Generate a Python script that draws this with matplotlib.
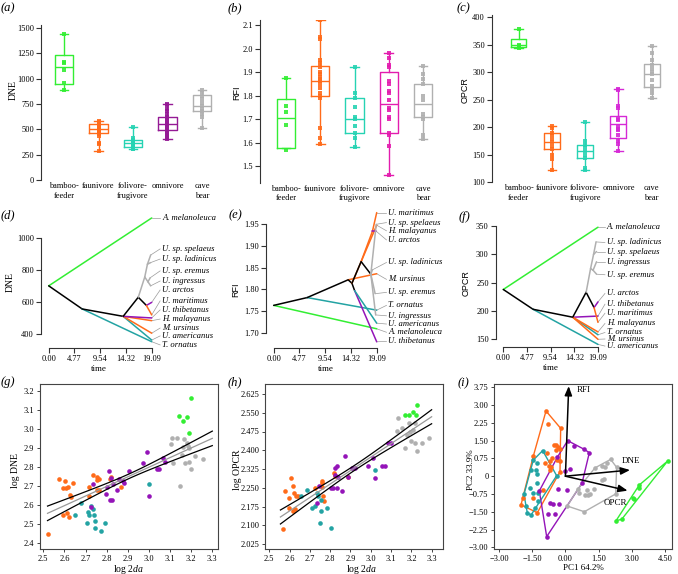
import numpy as np
import matplotlib
matplotlib.use('Agg')
import matplotlib.pyplot as plt

plt.rcParams['font.family'] = ['Liberation Serif', 'DejaVu Serif']
plt.rcParams['mathtext.fontset'] = 'custom'
plt.rcParams['mathtext.rm'] = 'Liberation Serif'
plt.rcParams['mathtext.it'] = 'Liberation Serif:italic'
SANS = ['Liberation Sans', 'DejaVu Sans']

# ---------------- colours ----------------
GREEN = '#33EE33'
ORANGE = '#FF6B1A'
TEAL_BOX = '#26D3B3'
TEAL = '#23A3A3'
PURPLE_A = '#951A95'
PURPLE_B = '#E31CAE'
PURPLE_C = '#D629D6'
PURPLE = '#9414B8'
GREY = '#B0B0B0'

# ---------------- data: box panels (a)-(c) ----------------
categories = ['bamboo-\nfeeder', 'faunivore', 'folivore-\nfrugivore', 'omnivore', 'cave\nbear']
# (whisker low, q1, median, q3, whisker high)
dne_box = [(890, 945, 1115, 1230, 1440), (290, 460, 500, 555, 580), (305, 330, 365, 390, 520),
           (400, 490, 555, 625, 750), (510, 680, 730, 840, 890)]
dne_pts = [[1440, 1160, 1150, 1090, 960, 890],
           [580, 575, 560, 550, 545, 540, 520, 505, 500, 490, 480, 470, 460, 450, 430, 365, 355, 290],
           [520, 410, 395, 385, 370, 360, 350, 340, 330, 310, 305],
           [750, 740, 700, 680, 650, 625, 610, 590, 570, 555, 540, 520, 500, 480, 460, 440, 420, 400],
           [890, 870, 830, 800, 760, 730, 700, 680, 650, 620, 510]]
rfi_box = [(1.575, 1.575, 1.705, 1.785, 1.875), (1.595, 1.80, 1.86, 1.925, 2.12), (1.58, 1.64, 1.70, 1.79, 1.92),
           (1.46, 1.64, 1.765, 1.90, 1.98), (1.615, 1.71, 1.765, 1.85, 1.925)]
rfi_pts = [[1.875, 1.755, 1.73, 1.675, 1.57],
           [2.12, 2.05, 2.04, 1.95, 1.94, 1.92, 1.90, 1.89, 1.88, 1.87, 1.86, 1.85, 1.83, 1.81, 1.80, 1.79, 1.66, 1.62, 1.595],
           [1.92, 1.81, 1.79, 1.75, 1.71, 1.70, 1.67, 1.64, 1.62, 1.58],
           [1.98, 1.96, 1.93, 1.92, 1.86, 1.85, 1.82, 1.81, 1.78, 1.745, 1.74, 1.71, 1.70, 1.64, 1.63, 1.585, 1.46],
           [1.925, 1.89, 1.87, 1.85, 1.80, 1.78, 1.72, 1.71, 1.70, 1.63, 1.615]]
opcr_box = [(344, 345, 350, 360, 378), (122, 160, 172, 190, 202), (122, 143, 157, 167, 210),
            (156, 180, 206, 220, 270), (252, 272, 296, 315, 347)]
opcr_pts = [[378, 350, 347, 344],
            [202, 198, 190, 185, 178, 172, 165, 160, 150, 142, 122],
            [210, 175, 167, 163, 157, 150, 143, 125, 122],
            [270, 268, 238, 235, 215, 212, 200, 197, 195, 185, 175, 170, 156],
            [347, 335, 322, 312, 305, 300, 296, 285, 275, 270, 262, 252]]

# ---------------- data: phenograms (d)-(f) ----------------
time_ticks = [0.0, 4.77, 9.54, 14.32, 19.09]
time_labels = ['0.00', '4.77', '9.54', '14.32', '19.09']
species = {'mel': 'A. melanoleuca', 'spe': 'U. sp. spelaeus', 'lad': 'U. sp. ladinicus',
           'ere': 'U. sp. eremus', 'ing': 'U. ingressus', 'arc': 'U. arctos', 'mar': 'U. maritimus',
           'thi': 'U. thibetanus', 'mal': 'H. malayanus', 'urs': 'M. ursinus',
           'ame': 'U. americanus', 'orn': 'T. ornatus'}
K = 'black'
dne_nodes = {'R': (0, 700), 'n1': (6.2, 556), 'n2': (13.8, 510), 'n3': (16.6, 629), 'n5': (18.1, 578),
             'g1': (17.8, 755), 'g2': (18.3, 835), 'g3': (18.4, 725),
             'mel': (19.09, 1123), 'orn': (19.09, 352), 'ame': (19.09, 362), 'urs': (19.09, 405),
             'mal': (19.09, 483), 'thi': (19.09, 500), 'arc': (19.09, 597), 'mar': (19.09, 519),
             'spe': (18.9, 892), 'lad': (18.9, 845), 'ere': (18.8, 750), 'ing': (18.9, 700)}
dne_edges = [('R', 'mel', GREEN), ('R', 'n1', K), ('n1', 'orn', TEAL), ('n1', 'n2', K),
             ('n2', 'ame', TEAL), ('n2', 'urs', ORANGE), ('n2', 'mal', ORANGE), ('n2', 'thi', PURPLE),
             ('n2', 'n3', K), ('n3', 'n5', K), ('n5', 'arc', PURPLE), ('n5', 'mar', ORANGE),
             ('n3', 'g1', GREY), ('g1', 'g2', GREY), ('g2', 'spe', GREY), ('g2', 'lad', GREY),
             ('g1', 'g3', GREY), ('g3', 'ere', GREY), ('g3', 'ing', GREY)]
dne_labels = {'mel': 1123, 'spe': 930, 'lad': 867, 'ere': 793, 'ing': 730, 'arc': 674, 'mar': 606,
              'thi': 550, 'mal': 493, 'urs': 437, 'ame': 388, 'orn': 332}

rfi_nodes = {'R': (0, 1.763), 'n1': (6.2, 1.781), 'n2': (13.8, 1.822), 'n3': (14.5, 1.814),
             'n4': (15.0, 1.797), 'n5': (16.2, 1.864), 'n6': (18.0, 1.835), 'n8': (18.3, 1.934),
             'mel': (19.09, 1.709), 'orn': (19.09, 1.752), 'urs': (19.09, 1.836), 'thi': (19.09, 1.679),
             'ame': (19.09, 1.722), 'mar': (19.09, 1.977), 'mal': (19.09, 1.948), 'arc': (19.0, 1.934),
             'spe': (19.0, 1.95), 'lad': (18.3, 1.845), 'ere': (18.8, 1.79), 'ing': (18.9, 1.741)}
rfi_edges = [('R', 'mel', GREEN), ('R', 'n1', K), ('n1', 'orn', TEAL), ('n1', 'n2', K),
             ('n2', 'urs', ORANGE), ('n2', 'n3', K), ('n3', 'n4', K), ('n4', 'thi', PURPLE),
             ('n4', 'ame', TEAL), ('n3', 'mal', ORANGE), ('n3', 'n5', K), ('n5', 'n8', ORANGE),
             ('n8', 'mar', ORANGE), ('n8', 'arc', PURPLE), ('n5', 'n6', K),
             ('n6', 'spe', GREY), ('n6', 'lad', GREY), ('n6', 'ere', GREY), ('n6', 'ing', GREY)]
rfi_labels = {'mar': 1.977, 'spe': 1.954, 'mal': 1.935, 'arc': 1.914, 'lad': 1.862, 'urs': 1.823,
              'ere': 1.793, 'orn': 1.763, 'ing': 1.739, 'ame': 1.720, 'mel': 1.701, 'thi': 1.680}

opcr_nodes = {'R': (0, 238), 'n1': (6.0, 203), 'n2': (14.0, 189), 'n4': (16.7, 233), 'n5': (18.3, 206),
              'g1': (17.6, 275), 'g2': (18.2, 300), 'g3': (18.1, 272),
              'mel': (19.09, 348), 'ame': (19.09, 141), 'orn': (19.09, 158), 'thi': (19.09, 191),
              'mal': (19.09, 163), 'urs': (19.09, 150), 'arc': (19.09, 216), 'mar': (19.09, 180),
              'lad': (18.7, 322), 'spe': (18.8, 305), 'ing': (18.8, 287), 'ere': (18.8, 265)}
opcr_edges = [('R', 'mel', GREEN), ('R', 'n1', K), ('n1', 'ame', TEAL), ('n1', 'n2', K),
              ('n2', 'orn', TEAL), ('n2', 'thi', PURPLE), ('n2', 'mal', ORANGE), ('n2', 'urs', ORANGE),
              ('n2', 'n4', K), ('n4', 'n5', K), ('n5', 'arc', PURPLE), ('n5', 'mar', ORANGE),
              ('n4', 'g1', GREY), ('g1', 'g2', GREY), ('g2', 'lad', GREY), ('g2', 'spe', GREY),
              ('g1', 'g3', GREY), ('g3', 'ing', GREY), ('g3', 'ere', GREY)]
opcr_labels = {'mel': 348, 'lad': 321, 'spe': 305, 'ing': 287, 'ere': 264, 'arc': 231, 'thi': 212,
               'mar': 196, 'mal': 178, 'orn': 162, 'urs': 150.5, 'ame': 138}

# ---------------- data: scatter (g), (h) ----------------
g_orange_x = [2.520, 2.574, 2.603, 2.591, 2.607, 2.618, 2.626, 2.631, 2.639, 2.595, 2.610, 2.621, 2.716,
              2.716, 2.737, 2.752, 2.756, 2.765, 2.752, 2.765, 2.815, 2.820, 2.866]
g_orange_y = [2.447, 2.739, 2.728, 2.688, 2.688, 2.697, 2.653, 2.641, 2.718, 2.548, 2.557, 2.540, 2.697,
              2.650, 2.758, 2.746, 2.732, 2.737, 2.679, 2.679, 2.737, 2.746, 2.697]
g_teal_x = [2.678, 2.650, 2.713, 2.716, 2.724, 2.733, 2.705, 2.741, 2.744, 2.744, 2.773, 2.792, 3.000]
g_teal_y = [2.610, 2.548, 2.566, 2.548, 2.596, 2.578, 2.505, 2.548, 2.517, 2.479, 2.466, 2.505, 2.709]
g_purple_x = [2.733, 2.726, 2.795, 2.800, 2.811, 2.815, 2.823, 2.820, 2.831, 2.850, 2.858, 2.875, 2.883,
              2.905, 2.989, 2.970, 3.000, 3.036, 3.047, 3.065, 3.076]
g_purple_y = [2.709, 2.589, 2.659, 2.697, 2.779, 2.627, 2.627, 2.741, 2.711, 2.679, 2.735, 2.727, 2.718,
              2.779, 2.880, 2.819, 2.650, 2.788, 2.788, 2.849, 2.828]
g_grey_x = [3.103, 3.110, 3.131, 3.115, 3.147, 3.167, 3.178, 3.186, 3.191, 3.170, 3.191, 3.199, 3.218,
            3.257, 3.155, 3.162]
g_grey_y = [2.919, 2.950, 2.950, 2.819, 2.700, 2.945, 2.924, 2.910, 2.898, 2.819, 2.828, 2.788, 2.858,
            2.840, 2.863, 2.907]
g_green_x = [3.142, 3.159, 3.178, 3.199, 3.189]
g_green_y = [3.069, 3.039, 3.060, 3.160, 2.980]
# regression: x-range, fitted end values, CI half-gap at ends / centre
g_reg = dict(x0=2.52, x1=3.30, y0=2.557, y1=2.950, gap_end=0.038, gap_mid=0.012)

h_orange_x = [2.566, 2.577, 2.597, 2.607, 2.615, 2.622, 2.631, 2.640, 2.618, 2.626, 2.599, 2.725, 2.758,
              2.761, 2.758, 2.763, 2.771, 2.819, 2.824, 2.886]
h_orange_y = [2.085, 2.237, 2.208, 2.288, 2.257, 2.228, 2.217, 2.217, 2.157, 2.164, 2.168, 2.248, 2.277,
              2.268, 2.252, 2.218, 2.198, 2.308, 2.297, 2.294]
h_teal_x = [2.684, 2.656, 2.712, 2.725, 2.737, 2.741, 2.755, 2.755, 2.750, 2.783, 2.804, 3.021]
h_teal_y = [2.241, 2.217, 2.168, 2.177, 2.228, 2.217, 2.201, 2.157, 2.108, 2.168, 2.088, 2.321]
h_purple_x = [2.873, 2.824, 2.832, 2.824, 2.840, 2.804, 2.815, 2.832, 2.860, 2.886, 2.906, 2.922, 2.988,
              3.009, 3.054, 3.070, 3.086, 3.098, 3.021, 2.737, 2.745]
h_purple_y = [2.378, 2.328, 2.337, 2.301, 2.294, 2.248, 2.248, 2.248, 2.237, 2.294, 2.328, 2.328, 2.338,
              2.370, 2.337, 2.337, 2.430, 2.430, 2.288, 2.188, 2.257]
h_grey_x = [3.136, 3.128, 3.152, 3.188, 3.193, 3.210, 3.218, 3.169, 3.196, 3.218, 3.226, 3.251, 3.287, 3.177]
h_grey_y = [2.530, 2.478, 2.488, 2.510, 2.474, 2.481, 2.510, 2.408, 2.437, 2.430, 2.398, 2.430, 2.450, 2.461]
h_green_x = [3.169, 3.188, 3.206, 3.221, 3.226]
h_green_y = [2.541, 2.541, 2.552, 2.541, 2.581]
h_reg = dict(x0=2.555, x1=3.30, y0=2.133, y1=2.534, gap_end=0.028, gap_mid=0.010)

# ---------------- data: PCA (i) ----------------
i_orange_x = [-0.876, -0.80, -0.214, -1.449, -0.816, -0.62, -0.515, -0.425, -0.35, -0.44, -0.244, -0.696,
              -0.364, -0.244, -0.756, -0.65, -0.696, -0.922, -0.244, -1.027, -1.479, -1.90, -2.006, -1.268]
i_orange_y = [2.75, 2.19, 2.02, 0.85, 0.99, 0.75, 1.32, 1.32, 1.25, 1.11, 1.13, 0.64, 0.68, 0.64, 0.43,
              0.37, 0.26, 0.57, 0.19, -0.58, -0.93, -0.91, -1.21, -1.54]
i_teal_x = [-1.027, -1.449, -1.268, -1.554, -1.343, -1.268, -1.60, -1.298, -1.449, -1.223, -1.87, -1.78,
            -1.373, -1.72, -1.554, -0.395, -1.223]
i_teal_y = [1.08, 0.68, 0.57, 0.26, 0.26, 0.08, -0.48, -0.27, -0.69, -0.69, -0.76, -1.26, -1.33, -1.54,
            -1.64, 0.02, -1.03]
i_purple_x = [0.102, 0.389, 0.855, 1.081, -0.364, -0.018, 0.208, -1.178, -0.32, 0.057, -0.696, -0.575,
              -0.274, -0.771, -0.455, -0.846, 0.75]
i_purple_y = [1.50, 1.29, 1.13, 0.99, 0.80, 0.23, 0.29, -0.62, -0.55, -0.58, -1.12, -1.17, -1.17, -1.59,
              -1.59, -2.55, -0.30]
i_grey_x = [2.045, 1.865, 1.789, 1.337, 1.639, 2.316, 1.744, 1.639, 1.307, 0.96, 1.11, 0.63, 0.554, 0.886,
            1.036, 0.087, 0.855, 2.27]
i_grey_y = [0.71, 0.57, 0.37, 0.35, 0.43, 0.37, -0.13, -0.16, -0.55, -0.58, -0.76, -0.69, -0.55, -0.79,
            -0.79, -1.26, -1.50, -0.75]
i_green_x = [4.62, 3.34, 3.34, 3.04, 3.11, 2.286, 2.542]
i_green_y = [0.64, -0.37, -0.48, -0.93, -0.98, -1.88, -1.82]
loadings = {'RFI': (0.15, 3.80), 'DNE': (2.92, 0.26), 'OPCR': (2.81, -0.61)}
loading_text = {'RFI': (0.5, 3.62), 'DNE': (2.54, 0.66), 'OPCR': (1.72, -1.12)}

# ---------------- figure ----------------
W, H = 678, 574
fig = plt.figure(figsize=(W / 100, H / 100), dpi=100)
fig.patch.set_facecolor('white')


def add_ax(l, t, r, b):
    return fig.add_axes([l / W, 1 - b / H, (r - l) / W, (b - t) / H])


def ftext(x, y, s, **kw):
    fig.text(x / W, 1 - y / H, s, **kw)


SPINE = '#333333'
TFS = 6


def box_panel(ax, stats, pts, colors, width, capw, yticks, ylabels):
    for i, (st, p, c) in enumerate(zip(stats, pts, colors)):
        lo, q1, med, q3, hi = st
        props = dict(color=c, lw=1.0)
        ax.bxp([dict(whislo=lo, q1=q1, med=med, q3=q3, whishi=hi, fliers=[])], positions=[i],
               widths=width, capwidths=capw, showfliers=False, manage_ticks=False,
               boxprops=props, whiskerprops=props, capprops=props, medianprops=props)
        ax.scatter(np.full(len(p), i), p, s=6, marker='s', color=c, lw=0, zorder=3, alpha=0.9)
    for sp in ['top', 'right', 'bottom']:
        ax.spines[sp].set_visible(False)
    ax.spines['left'].set_color(SPINE)
    ax.spines['left'].set_linewidth(0.8)
    ax.set_yticks(yticks)
    ax.set_yticklabels(ylabels)
    ax.set_xticks(range(len(categories)))
    ax.set_xticklabels(categories, linespacing=1.25)
    ax.tick_params(axis='y', direction='out', length=3.5, width=0.8, labelsize=TFS, pad=1.5, color=SPINE)
    ax.tick_params(axis='x', length=0, labelsize=TFS, pad=1.5)
    ax.patch.set_alpha(0)


# (a)
axa = add_ax(41, 25, 222, 180)
box_panel(axa, dne_box, dne_pts, [GREEN, ORANGE, TEAL_BOX, PURPLE_A, GREY], 0.53, 0.24,
          [0, 250, 500, 750, 1000, 1250, 1500], ['0', '250', '500', '750', '1000', '1250', '1500'])
axa.set_xlim(-0.667, 4.58)
axa.set_ylim(0, 1530)
# (b)
axb = add_ax(260, 20.3, 445, 182.5)
box_panel(axb, rfi_box, rfi_pts, [GREEN, ORANGE, TEAL_BOX, PURPLE_B, GREY], 0.53, 0.26,
          [1.5, 1.6, 1.7, 1.8, 1.9, 2.0, 2.1], ['1.5', '1.6', '1.7', '1.8', '1.9', '2.0', '2.1'])
axb.set_xlim(-0.759, 4.642)
axb.set_ylim(1.43, 2.12)
# (c)
axc = add_ax(492, 15.4, 672, 182)
box_panel(axc, opcr_box, opcr_pts, [GREEN, ORANGE, TEAL_BOX, PURPLE_C, GREY], 0.48, 0.25,
          [100, 150, 200, 250, 300, 350, 400], ['100', '150', '200', '250', '300', '350', '400'])
axc.set_xlim(-0.796, 4.61)
axc.set_ylim(100, 403)

ftext(13, 90, 'DNE', rotation=90, ha='center', va='center', fontsize=7)
ftext(237, 93, 'RFI', rotation=90, ha='center', va='center', fontsize=6.5, family=SANS)
ftext(465, 90, 'OPCR', rotation=90, ha='center', va='center', fontsize=6.5, family=SANS)


def tree_panel(ax, nodes, edges, labels, label_t, conn_t, yticks, ylabels, ybounds):
    for a, b, c in edges:
        (t0, v0), (t1, v1) = nodes[a], nodes[b]
        ax.plot([t0, t1], [v0, v1], color=c, lw=1.1, solid_capstyle='round', clip_on=False, zorder=3)
    for key, lv in labels.items():
        t, v = nodes[key]
        ax.plot([t, conn_t], [v, lv], color='#9A9A9A', lw=0.5, clip_on=False, zorder=2)
        ax.text(label_t, lv, species[key], style='italic', fontsize=6.2, va='center', ha='left',
                clip_on=False)
    for sp in ['top', 'right']:
        ax.spines[sp].set_visible(False)
    for sp in ['left', 'bottom']:
        ax.spines[sp].set_color(SPINE)
        ax.spines[sp].set_linewidth(0.8)
    ax.spines['left'].set_bounds(*ybounds)
    ax.spines['bottom'].set_bounds(0, 19.09)
    ax.set_xticks(time_ticks)
    ax.set_xticklabels(time_labels)
    ax.set_yticks(yticks)
    ax.set_yticklabels(ylabels)
    ax.tick_params(direction='out', length=3.5, width=0.8, labelsize=TFS, pad=1.5, color=SPINE)
    ax.patch.set_alpha(0)


axd = add_ax(41, 215, 155, 347.7)
tree_panel(axd, dne_nodes, dne_edges, dne_labels, 21.0, 20.65, [400, 600, 800, 1000],
           ['400', '600', '800', '1000'], (400, 1000))
axd.set_xlim(-1.43, 19.70)
axd.set_ylim(314.6, 1141.4)

axe = add_ax(265.7, 210, 380, 347.7)
tree_panel(axe, rfi_nodes, rfi_edges, rfi_labels, 21.24, 20.9, [1.70, 1.75, 1.80, 1.85, 1.90, 1.95],
           ['1.70', '1.75', '1.80', '1.85', '1.90', '1.95'], (1.70, 1.95))
axe.set_xlim(-1.48, 19.70)
axe.set_ylim(1.6654, 1.983)

axf = add_ax(495.7, 222, 602, 346.7)
tree_panel(axf, opcr_nodes, opcr_edges, opcr_labels, 20.84, 20.5, [150, 200, 250, 300, 350],
           ['150', '200', '250', '300', '350'], (150, 350))
axf.set_xlim(-1.53, 19.9)
axf.set_ylim(136.9, 357.2)

ftext(10, 282, 'DNE', rotation=90, ha='center', va='center', fontsize=7)
ftext(236, 290, 'RFI', rotation=90, ha='center', va='center', fontsize=6.5, family=SANS)
ftext(466, 283, 'OPCR', rotation=90, ha='center', va='center', fontsize=6.5, family=SANS)
ftext(99, 369, 'time', ha='center', va='center', fontsize=6.5)
ftext(326, 369, 'time', ha='center', va='center', fontsize=6.5)
ftext(551, 368, 'time', ha='center', va='center', fontsize=6.5)


def frame(ax):
    for sp in ax.spines.values():
        sp.set_color('#444444')
        sp.set_linewidth(0.8)
    ax.tick_params(direction='out', length=2.5, width=0.7, labelsize=TFS, pad=1.5, color='#444444')


def scatter_groups(ax, groups):
    for xs, ys, c in groups:
        ax.scatter(xs, ys, s=11, color=c, lw=0, zorder=2)


def reg_lines(ax, r):
    xs = np.linspace(r['x0'], r['x1'], 60)
    yc = r['y0'] + (r['y1'] - r['y0']) * (xs - r['x0']) / (r['x1'] - r['x0'])
    xm = 0.5 * (r['x0'] + r['x1'])
    half = 0.5 * (r['x1'] - r['x0'])
    w = np.sqrt(r['gap_mid'] ** 2 + (r['gap_end'] ** 2 - r['gap_mid'] ** 2) * ((xs - xm) / half) ** 2)
    ax.plot(xs, yc, color='#999999', lw=0.9, zorder=3)
    ax.plot(xs, yc + w, color='black', lw=0.9, zorder=3)
    ax.plot(xs, yc - w, color='black', lw=0.9, zorder=3)


# (g)
axg = add_ax(40, 384, 218, 549)
scatter_groups(axg, [(g_orange_x, g_orange_y, ORANGE), (g_teal_x, g_teal_y, TEAL),
                     (g_purple_x, g_purple_y, PURPLE), (g_grey_x, g_grey_y, GREY),
                     (g_green_x, g_green_y, GREEN)])
reg_lines(axg, g_reg)
axg.set_xlim(2.4844, 3.327)
axg.set_ylim(2.370, 3.235)
gx = [2.5, 2.6, 2.7, 2.8, 2.9, 3.0, 3.1, 3.2, 3.3]
gy = [2.4, 2.5, 2.6, 2.7, 2.8, 2.9, 3.0, 3.1, 3.2]
axg.set_xticks(gx)
axg.set_xticklabels([f'{v:.1f}' for v in gx])
axg.set_yticks(gy)
axg.set_yticklabels([f'{v:.1f}' for v in gy])
frame(axg)

# (h)
axh = add_ax(265, 384, 443, 549)
scatter_groups(axh, [(h_orange_x, h_orange_y, ORANGE), (h_teal_x, h_teal_y, TEAL),
                     (h_purple_x, h_purple_y, PURPLE), (h_grey_x, h_grey_y, GREY),
                     (h_green_x, h_green_y, GREEN)])
reg_lines(axh, h_reg)
axh.set_xlim(2.479, 3.356)
axh.set_ylim(2.005, 2.665)
hy = [2.025, 2.100, 2.175, 2.250, 2.325, 2.400, 2.475, 2.550, 2.625]
axh.set_xticks(gx)
axh.set_xticklabels([f'{v:.1f}' for v in gx])
axh.set_yticks(hy)
axh.set_yticklabels([f'{v:.3f}' for v in hy])
frame(axh)


def hull(xs, ys):
    pts = sorted(set(zip(xs, ys)))

    def cross(o, a, b):
        return (a[0] - o[0]) * (b[1] - o[1]) - (a[1] - o[1]) * (b[0] - o[0])
    lower, upper = [], []
    for p in pts:
        while len(lower) >= 2 and cross(lower[-2], lower[-1], p) <= 0:
            lower.pop()
        lower.append(p)
    for p in reversed(pts):
        while len(upper) >= 2 and cross(upper[-2], upper[-1], p) <= 0:
            upper.pop()
        upper.append(p)
    h = lower[:-1] + upper[:-1]
    h.append(h[0])
    return [p[0] for p in h], [p[1] for p in h]


# (i)
axi = add_ax(494, 384, 672, 549)
i_groups = [(i_orange_x, i_orange_y, ORANGE), (i_teal_x, i_teal_y, TEAL),
            (i_purple_x, i_purple_y, PURPLE), (i_grey_x, i_grey_y, GREY),
            (i_green_x, i_green_y, GREEN)]
for xs, ys, c in i_groups:
    hx, hy_ = hull(xs, ys)
    axi.plot(hx, hy_, color=c, lw=1.0, zorder=1)
scatter_groups(axi, i_groups)
for k, (lx, ly) in loadings.items():
    axi.annotate('', xy=(lx, ly), xytext=(0, 0),
                 arrowprops=dict(arrowstyle='-|>,head_length=0.55,head_width=0.22', color='black',
                                 lw=1.1, shrinkA=0, shrinkB=0), zorder=4)
    tx, ty = loading_text[k]
    axi.text(tx, ty, k, fontsize=6.5, ha='left', va='center', zorder=5)
axi.set_xlim(-3.226, 4.816)
axi.set_ylim(-3.072, 3.889)
ix = [-3.0, -1.5, 0.0, 1.5, 3.0, 4.5]
iy = [-3.0, -2.25, -1.5, -0.75, 0.0, 0.75, 1.5, 2.25, 3.0, 3.75]
axi.set_xticks(ix)
axi.set_xticklabels([f'{v:.2f}'.replace('-', '\u2212') for v in ix])
axi.set_yticks(iy)
axi.set_yticklabels(['0' if v == 0 else f'{v:.2f}'.replace('-', '\u2212') for v in iy])
frame(axi)

ftext(15, 470, 'log DNE', rotation=90, ha='center', va='center', fontsize=7)
ftext(129, 569, 'log $\\mathit{2da}$', ha='center', va='center', fontsize=7)
ftext(237, 470, 'log OPCR', rotation=90, ha='center', va='center', fontsize=7)
ftext(362, 569, 'log $\\mathit{2da}$', ha='center', va='center', fontsize=7)
ftext(471, 470, 'PC2 33.9%', rotation=90, ha='center', va='center', fontsize=6.5)
ftext(583, 568, 'PC1 64.2%', ha='center', va='center', fontsize=6.5)

# panel letters
for s, x, y in [('(a)', 8, 8), ('(b)', 235, 8), ('(c)', 463, 8), ('(d)', 8, 215), ('(e)', 235, 215),
                ('(f)', 464, 217), ('(g)', 8, 382), ('(h)', 235, 382), ('(i)', 463, 383)]:
    ftext(x, y, s, ha='center', va='center', fontsize=9, style='italic')

fig.savefig('out.png', dpi=100)
